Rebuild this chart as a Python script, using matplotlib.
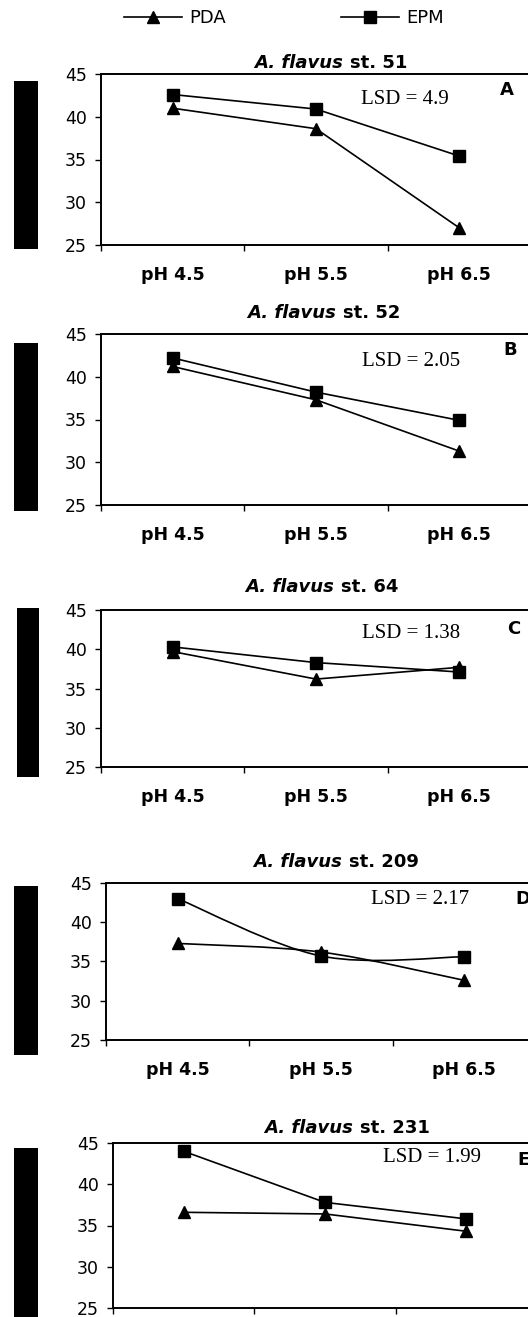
import matplotlib
matplotlib.use('Agg')
import matplotlib.pyplot as plt
from matplotlib.path import Path
from matplotlib.patches import PathPatch, Rectangle
from matplotlib.lines import Line2D
import numpy as np

# ---------------- data ----------------
categories = ['pH 4.5', 'pH 5.5', 'pH 6.5']
species = 'A. flavus'
strains = ['st. 51', 'st. 52', 'st. 64', 'st. 209', 'st. 231']
panel_letters = ['A', 'B', 'C', 'D', 'E']
lsd_labels = ['LSD = 4.9', 'LSD = 2.05', 'LSD = 1.38', 'LSD = 2.17', 'LSD = 1.99']
series_names = ['PDA', 'EPM']

pda_51 = [41.0, 38.6, 27.0]
epm_51 = [42.6, 40.9, 35.4]
pda_52 = [41.2, 37.3, 31.3]
epm_52 = [42.2, 38.2, 34.9]
pda_64 = [39.7, 36.2, 37.7]
epm_64 = [40.3, 38.3, 37.1]
pda_209 = [37.3, 36.2, 32.6]
epm_209 = [43.0, 35.7, 35.6]
pda_231 = [36.6, 36.4, 34.3]
epm_231 = [44.0, 37.8, 35.8]

pda_all = [pda_51, pda_52, pda_64, pda_209, pda_231]
epm_all = [epm_51, epm_52, epm_64, epm_209, epm_231]
smoothed = [False, False, False, True, False]
y_ticks = [25, 30, 35, 40, 45]

# ---------------- layout (pixels) ----------------
W, H = 528, 1317
fig = plt.figure(figsize=(W / 100, H / 100), dpi=100)
plt.rcParams['font.family'] = ['DejaVu Sans']

axes_px = [(101, 74, 531, 245), (101, 334, 531, 505), (101, 610, 531, 767),
           (106, 883, 536, 1040), (113, 1143, 537, 1308)]
title_split_px = [343, 336, 334, 342, 353]
title_base_px = [68, 318, 592, 867, 1133]
lsd_px = [(405, 100), (411, 362), (411, 634), (420, 899), (432, 1157)]
letter_px = [(500, 90), (503, 350), (507, 629), (515, 899), (517, 1160)]
bars_px = [(14, 81, 38, 249), (14, 343, 38, 511), (17, 608, 39, 777),
           (14, 886, 38, 1055), (14, 1148, 38, 1330)]


def fx(px):
    return px / W


def fy(py):
    return 1 - py / H


def smooth_path(xs, ys):
    pts = np.column_stack([xs, ys]).astype(float)
    n = len(pts)
    verts = [pts[0]]
    codes = [Path.MOVETO]
    for i in range(n - 1):
        p0 = pts[i - 1] if i > 0 else pts[i]
        p1 = pts[i]
        p2 = pts[i + 1]
        p3 = pts[i + 2] if i + 2 < n else pts[i + 1]
        c1 = p1 + (p2 - p0) / 6.0
        c2 = p2 - (p3 - p1) / 6.0
        verts += [c1, c2, p2]
        codes += [Path.CURVE4] * 3
    return Path(verts, codes)


x = np.arange(len(categories))
legend_handles = None

for i in range(5):
    l, t, r, b = axes_px[i]
    ax = fig.add_axes([fx(l), fy(b), (r - l) / W, (b - t) / H])
    ax.set_xlim(-0.5, 2.5)
    ax.set_ylim(25, 45)
    for sp in ['left', 'bottom', 'top']:
        ax.spines[sp].set_linewidth(1.4)
    ax.spines['right'].set_visible(False)

    if smoothed[i]:
        for vals in (pda_all[i], epm_all[i]):
            ax.add_patch(PathPatch(smooth_path(x, vals), fill=False,
                                   edgecolor='black', lw=1.2))
        ax.plot(x, pda_all[i], marker='^', linestyle='none', color='black', markersize=9)
        ax.plot(x, epm_all[i], marker='s', linestyle='none', color='black', markersize=8)
    else:
        ax.plot(x, pda_all[i], marker='^', color='black', markersize=9, lw=1.2)
        ax.plot(x, epm_all[i], marker='s', color='black', markersize=8, lw=1.2)

    ax.set_yticks(y_ticks)
    ax.set_yticklabels([str(v) for v in y_ticks], fontsize=12.5)
    ax.tick_params(axis='y', direction='out', length=4, width=1, pad=6)
    ax.set_xticks(x)
    if i < 4:
        ax.set_xticklabels(categories, fontsize=12.5, fontweight='bold')
    else:
        ax.set_xticklabels([])
    ax.tick_params(axis='x', which='major', length=0, pad=15)
    ax.set_xticks([-0.5, 0.5, 1.5, 2.5], minor=True)
    ax.tick_params(axis='x', which='minor', direction='out', length=4, width=1)

    # title
    fig.text(fx(title_split_px[i]), fy(title_base_px[i]), species,
             ha='right', va='baseline', fontsize=13,
             fontweight='bold', fontstyle='italic')
    fig.text(fx(title_split_px[i] + 7), fy(title_base_px[i]), strains[i],
             ha='left', va='baseline', fontsize=13, fontweight='bold')

    # LSD
    fig.text(fx(lsd_px[i][0]), fy(lsd_px[i][1]), lsd_labels[i], ha='center', va='center',
             fontsize=15, family='Liberation Serif')
    # letter
    fig.text(fx(letter_px[i][0]), fy(letter_px[i][1]), panel_letters[i], ha='left', va='center',
             fontsize=13, fontweight='bold')

    # black bars
    bx0, by0, bx1, by1 = bars_px[i]
    fig.patches.append(Rectangle((fx(bx0), fy(by1)), (bx1 - bx0) / W, (by1 - by0) / H,
                                 transform=fig.transFigure, facecolor='black',
                                 edgecolor='none'))
    if i == 0:
        legend_handles = [Line2D([], [], color='black', marker='^', markersize=9, lw=1.2),
                          Line2D([], [], color='black', marker='s', markersize=8, lw=1.2)]

fig.legend(legend_handles, series_names, loc='center left',
           bbox_to_anchor=(fx(124), fy(18)), ncol=2, frameon=False,
           fontsize=13, handlelength=3.2, handletextpad=0.4, columnspacing=6.4,
           borderpad=0, borderaxespad=0, numpoints=1)

fig.savefig('out.png', dpi=100)
